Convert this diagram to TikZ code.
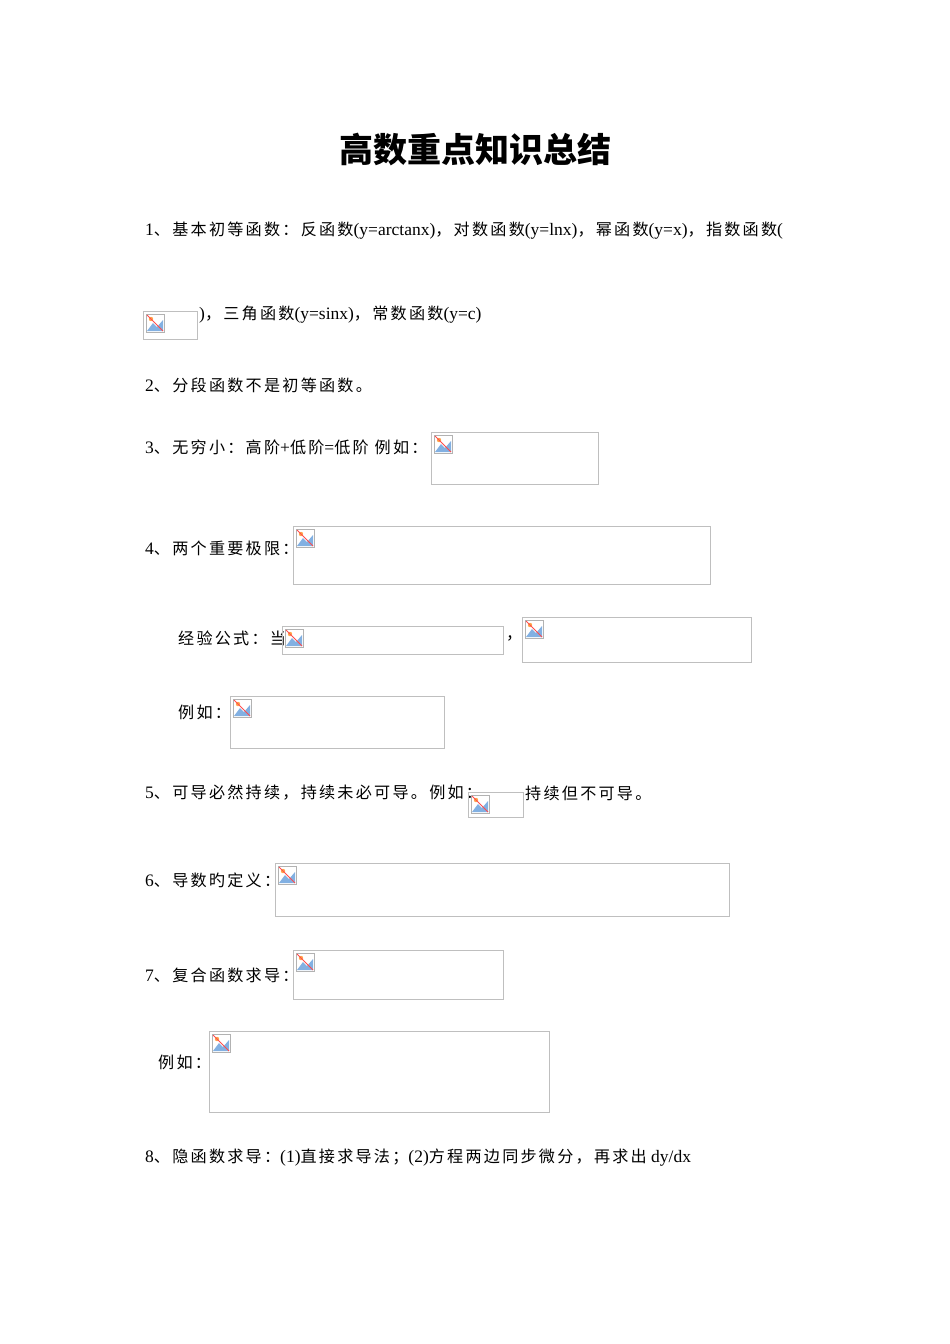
\documentclass[tikz,border=0pt]{standalone}
\usepackage{fontspec}
\setmainfont{Liberation Serif}
\newfontfamily\cjk[LetterSpace=14,Scale=0.92]{Noto Sans CJK SC}
\newfontfamily\cjkb{Noto Sans CJK SC}
\newcommand\zh[1]{{\cjk #1}}
\newcommand\imgph[4]{%
  \draw[boxline] (#1,#2) rectangle (#3,#4);
  \begin{scope}[shift={(#1+3,#2+3)}]
    \draw[gray!60,fill=white] (0,0) rectangle (18,18);
    \fill[cyan!60!blue!50] (1,17) -- (7,9) -- (11,13) -- (17,6) -- (17,17) -- cycle;
    \fill[orange!70] (5,5) circle (2.2);
    \draw[red!70,line width=1pt] (1,1) -- (17,17);
  \end{scope}}
\tikzset{txt/.style={anchor=west,inner sep=0pt,font=\fontsize{17.5}{20}\selectfont},
  boxline/.style={draw=black!25,line width=0.6pt}}
\begin{document}
\begin{tikzpicture}[x=1pt,y=-1pt]
\useasboundingbox[fill=white] (0,0) rectangle (950,1344);
\node[font=\cjkb\bfseries\fontsize{34}{40}\selectfont] (title) at (475,150) {高数重点知识总结};
\node[txt] (l1) at (145,231) {1\zh{、基本初等函数：反函数}(y=arctanx)\zh{，对数函数}(y=lnx)\zh{，幂函数}(y=x)\zh{，指数函数}(};
\imgph{143}{311}{197}{339}
\node[txt] (l1b) at (199,315) {)\zh{，三角函数}(y=sinx)\zh{，常数函数}(y=c)};
\node[txt] (l2) at (145,385) {2\zh{、分段函数不是初等函数。}};
\node[txt] (l3) at (145,447) {3\zh{、无穷小：高阶}+\zh{低阶}=\zh{低阶\ 例如：}};
\imgph{431}{432}{598}{484}
\node[txt] (l4) at (145,548) {4\zh{、两个重要极限：}};
\imgph{293}{526}{710}{584}
\node[txt] (l4a) at (178,638) {\zh{经验公式：当}};
\imgph{282}{626}{503}{654}
\node[txt] (comma) at (506,638) {\zh{，}};
\imgph{522}{617}{751}{662}
\node[txt] (l4b) at (178,712) {\zh{例如：}};
\imgph{230}{696}{444}{748}
\node[txt] (l5) at (145,793) {5\zh{、可导必然持续，持续未必可导。例如：}};
\imgph{468}{792}{523}{817}
\node[txt] (l5b) at (525,793) {\zh{持续但不可导。}};
\node[txt] (l6) at (145,880) {6\zh{、导数旳定义：}};
\imgph{275}{863}{729}{916}
\node[txt] (l7) at (145,975) {7\zh{、复合函数求导：}};
\imgph{293}{950}{503}{999}
\node[txt] (l7b) at (158,1062) {\zh{例如：}};
\imgph{209}{1031}{549}{1112}
\node[txt] (l8) at (145,1158) {8\zh{、隐函数求导：}(1)\zh{直接求导法；}(2)\zh{方程两边同步微分，再求出} dy/dx};
\end{tikzpicture}
\end{document}
